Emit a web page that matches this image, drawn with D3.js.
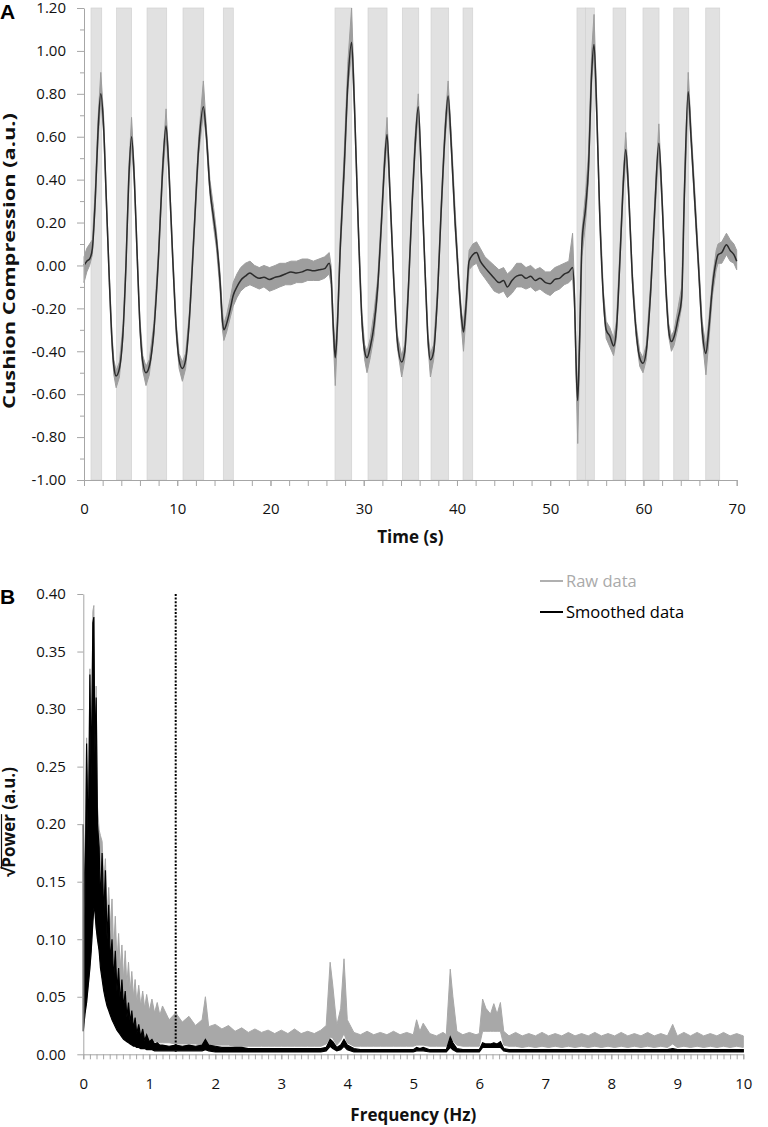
<!DOCTYPE html>
<html>
<head>
<meta charset="utf-8">
<script src="https://cdn.jsdelivr.net/npm/d3@7"></script>
<style>
  body { margin: 0; background: #fff; }
  svg { display: block; font-family: "Open Sans", sans-serif; }
</style>
</head>
<body>
<svg></svg>
<script>
// --- данные панели A: время (с), сглаженный сигнал, нижняя и верхняя граница сырых данных
const traceA = [
  [0.0, 0.00, -0.08, 0.04], [0.3, 0.02, -0.03, 0.08], [0.6, 0.03, 0.00, 0.10], [0.9, 0.08, 0.05, 0.12],
  [1.2, 0.30, 0.27, 0.35], [1.5, 0.62, 0.58, 0.68], [1.8, 0.80, 0.77, 0.90], [2.1, 0.65, 0.62, 0.70],
  [2.4, 0.30, 0.27, 0.33], [2.7, -0.05, -0.08, -0.02], [3.0, -0.35, -0.38, -0.32], [3.2, -0.47, -0.51, -0.44],
  [3.45, -0.515, -0.57, -0.49], [3.8, -0.48, -0.52, -0.45], [4.2, -0.30, -0.33, -0.27], [4.5, 0.00, -0.03, 0.03],
  [4.8, 0.40, 0.37, 0.45], [5.1, 0.60, 0.57, 0.69], [5.4, 0.40, 0.37, 0.44], [5.7, 0.05, 0.02, 0.08],
  [6.0, -0.28, -0.31, -0.25], [6.3, -0.45, -0.49, -0.42], [6.65, -0.50, -0.56, -0.47], [7.0, -0.47, -0.51, -0.44],
  [7.5, -0.30, -0.33, -0.27], [8.0, 0.05, 0.02, 0.08], [8.4, 0.42, 0.39, 0.46], [8.8, 0.65, 0.62, 0.73],
  [9.1, 0.45, 0.42, 0.49], [9.5, 0.05, 0.02, 0.08], [9.9, -0.30, -0.33, -0.27], [10.2, -0.44, -0.48, -0.41],
  [10.55, -0.48, -0.54, -0.45], [10.9, -0.44, -0.48, -0.41], [11.3, -0.25, -0.28, -0.22], [11.8, 0.15, 0.12, 0.18],
  [12.3, 0.55, 0.52, 0.60], [12.8, 0.74, 0.71, 0.86], [13.1, 0.62, 0.59, 0.66], [13.5, 0.36, 0.33, 0.40],
  [13.9, 0.22, 0.18, 0.27], [14.2, 0.12, 0.08, 0.16], [14.6, -0.08, -0.12, -0.04], [14.85, -0.26, -0.30, -0.22],
  [15.0, -0.30, -0.35, -0.27], [15.3, -0.27, -0.31, -0.23], [15.7, -0.20, -0.24, -0.15], [16.0, -0.14, -0.19, -0.08],
  [16.4, -0.10, -0.15, -0.04], [16.8, -0.07, -0.12, -0.01], [17.3, -0.05, -0.10, 0.01], [17.8, -0.035, -0.09, 0.02],
  [18.3, -0.05, -0.10, 0.00], [18.8, -0.06, -0.11, -0.01], [19.3, -0.055, -0.10, 0.00], [19.9, -0.065, -0.12, -0.01],
  [20.5, -0.055, -0.11, 0.00], [21.0, -0.05, -0.10, 0.01], [21.6, -0.04, -0.09, 0.01], [22.2, -0.03, -0.09, 0.02],
  [22.8, -0.035, -0.08, 0.02], [23.4, -0.03, -0.08, 0.03], [24.0, -0.02, -0.07, 0.03], [24.6, -0.025, -0.07, 0.02],
  [25.2, -0.02, -0.07, 0.03], [25.8, -0.015, -0.06, 0.04], [26.3, 0.01, -0.04, 0.06], [26.5, -0.05, -0.09, 0.00],
  [26.75, -0.30, -0.36, -0.26], [26.95, -0.43, -0.56, -0.40], [27.15, -0.30, -0.36, -0.26], [27.5, 0.10, 0.06, 0.14],
  [27.9, 0.45, 0.40, 0.52], [28.3, 0.85, 0.82, 0.95], [28.7, 1.04, 1.00, 1.20], [29.0, 0.75, 0.72, 0.80],
  [29.4, 0.20, 0.17, 0.24], [29.8, -0.25, -0.28, -0.22], [30.1, -0.40, -0.44, -0.37], [30.35, -0.43, -0.50, -0.40],
  [30.7, -0.38, -0.43, -0.34], [31.1, -0.28, -0.33, -0.22], [31.5, -0.10, -0.14, -0.06], [31.9, 0.20, 0.17, 0.24],
  [32.2, 0.45, 0.42, 0.50], [32.5, 0.61, 0.58, 0.69], [32.8, 0.35, 0.32, 0.39], [33.2, -0.05, -0.08, -0.02],
  [33.6, -0.35, -0.38, -0.32], [34.07, -0.45, -0.52, -0.42], [34.4, -0.40, -0.44, -0.37], [34.8, -0.10, -0.13, -0.07],
  [35.2, 0.30, 0.27, 0.34], [35.5, 0.55, 0.52, 0.60], [35.85, 0.74, 0.71, 0.80], [36.2, 0.40, 0.37, 0.44],
  [36.6, -0.05, -0.08, -0.02], [36.9, -0.35, -0.38, -0.32], [37.15, -0.44, -0.52, -0.41], [37.5, -0.40, -0.44, -0.37],
  [37.9, -0.15, -0.18, -0.12], [38.3, 0.25, 0.22, 0.29], [38.7, 0.60, 0.57, 0.65], [39.05, 0.79, 0.76, 0.86],
  [39.4, 0.55, 0.52, 0.60], [39.8, 0.20, 0.17, 0.26], [40.2, -0.08, -0.11, -0.05], [40.5, -0.25, -0.30, -0.22],
  [40.7, -0.31, -0.40, -0.27], [40.95, -0.20, -0.25, -0.16], [41.3, 0.02, -0.02, 0.07], [41.7, 0.05, 0.00, 0.10],
  [42.1, 0.06, 0.01, 0.11], [42.5, 0.02, -0.03, 0.08], [43.0, -0.01, -0.06, 0.04], [43.5, -0.035, -0.09, 0.02],
  [44.0, -0.06, -0.12, 0.00], [44.5, -0.08, -0.13, -0.02], [45.0, -0.07, -0.12, -0.01], [45.4, -0.10, -0.15, -0.04],
  [45.9, -0.07, -0.13, -0.02], [46.4, -0.05, -0.10, 0.01], [46.9, -0.045, -0.10, 0.01], [47.4, -0.06, -0.11, -0.01],
  [47.9, -0.05, -0.10, 0.00], [48.4, -0.07, -0.12, -0.02], [48.9, -0.06, -0.11, -0.01], [49.5, -0.08, -0.13, -0.03],
  [50.0, -0.085, -0.14, -0.03], [50.5, -0.065, -0.12, -0.01], [51.0, -0.06, -0.11, 0.00], [51.5, -0.04, -0.09, 0.01],
  [52.0, -0.03, -0.08, 0.02], [52.4, -0.01, -0.06, 0.15], [52.6, -0.15, -0.20, -0.10], [52.8, -0.50, -0.56, -0.45],
  [52.95, -0.63, -0.83, -0.58], [53.15, -0.35, -0.45, -0.30], [53.4, 0.10, 0.04, 0.16], [53.8, 0.27, 0.20, 0.34],
  [54.1, 0.45, 0.40, 0.52], [54.45, 0.90, 0.86, 1.00], [54.7, 1.03, 0.99, 1.17], [55.0, 0.70, 0.67, 0.76],
  [55.3, 0.25, 0.22, 0.29], [55.7, -0.15, -0.18, -0.12], [56.0, -0.30, -0.34, -0.26], [56.4, -0.33, -0.38, -0.29],
  [56.8, -0.375, -0.42, -0.34], [57.1, -0.30, -0.34, -0.26], [57.5, 0.05, 0.02, 0.09], [57.8, 0.35, 0.32, 0.40],
  [58.1, 0.54, 0.51, 0.62], [58.4, 0.35, 0.32, 0.39], [58.8, -0.05, -0.08, -0.02], [59.2, -0.30, -0.33, -0.27],
  [59.6, -0.43, -0.47, -0.40], [59.95, -0.456, -0.50, -0.43], [60.3, -0.40, -0.44, -0.37], [60.8, -0.10, -0.13, -0.07],
  [61.2, 0.25, 0.22, 0.29], [61.65, 0.57, 0.54, 0.66], [62.0, 0.30, 0.27, 0.34], [62.4, -0.10, -0.13, -0.07],
  [62.7, -0.30, -0.33, -0.27], [63.0, -0.355, -0.40, -0.33], [63.3, -0.33, -0.37, -0.30], [63.7, -0.25, -0.29, -0.20],
  [64.1, -0.15, -0.19, -0.10], [64.4, 0.35, 0.31, 0.40], [64.8, 0.81, 0.78, 0.90], [65.1, 0.60, 0.57, 0.65],
  [65.5, 0.30, 0.27, 0.35], [65.9, 0.00, -0.03, 0.04], [66.3, -0.30, -0.34, -0.26], [66.7, -0.41, -0.51, -0.38],
  [67.0, -0.30, -0.36, -0.26], [67.4, -0.10, -0.14, -0.06], [67.8, 0.02, -0.02, 0.07], [68.0, 0.05, 0.01, 0.10],
  [68.4, 0.06, 0.01, 0.11], [68.9, 0.096, 0.05, 0.15], [69.3, 0.07, 0.02, 0.12], [69.7, 0.05, 0.01, 0.10],
  [70.0, 0.02, -0.02, 0.07]
];

// серые полосы (начало, конец), с
const bandsA = [
  [0.75, 1.9], [3.5, 5.1], [6.76, 8.87], [10.62, 12.84], [14.94, 16.01],
  [26.92, 28.71], [30.46, 32.5], [34.14, 35.9], [37.22, 39.11], [40.65, 41.69],
  [52.87, 53.8], [53.8, 54.73], [56.74, 58.1], [59.95, 61.67], [63.25, 64.86], [66.68, 68.18]
];

const yTicksA = [-1.0, -0.8, -0.6, -0.4, -0.2, 0.0, 0.2, 0.4, 0.6, 0.8, 1.0, 1.2];
const yMinorA = [-0.9, -0.7, -0.5, -0.3, -0.1, 0.1, 0.3, 0.5, 0.7, 0.9, 1.1];
const xTicksA = [0, 10, 20, 30, 40, 50, 60, 70];

// --- данные панели B: частота (Гц), сглаженные (низ, верх), сырые (низ, верх)
const spectrumB = [
  [0.000, 0.020, 0.200, 0.020, 0.200], [0.025, 0.035, 0.120, 0.035, 0.125], [0.050, 0.045, 0.270, 0.045, 0.275],
  [0.075, 0.060, 0.180, 0.060, 0.190], [0.100, 0.075, 0.330, 0.075, 0.335], [0.120, 0.090, 0.240, 0.090, 0.250],
  [0.145, 0.115, 0.375, 0.115, 0.385], [0.160, 0.127, 0.380, 0.127, 0.390], [0.175, 0.125, 0.260, 0.125, 0.270],
  [0.195, 0.110, 0.310, 0.110, 0.320], [0.215, 0.100, 0.200, 0.100, 0.215], [0.240, 0.090, 0.180, 0.090, 0.195],
  [0.260, 0.075, 0.130, 0.080, 0.190], [0.285, 0.065, 0.175, 0.070, 0.185], [0.310, 0.055, 0.120, 0.060, 0.150],
  [0.335, 0.048, 0.160, 0.050, 0.170], [0.360, 0.042, 0.100, 0.045, 0.120], [0.385, 0.038, 0.130, 0.042, 0.145],
  [0.410, 0.034, 0.080, 0.040, 0.110], [0.435, 0.030, 0.100, 0.036, 0.135], [0.460, 0.027, 0.065, 0.034, 0.090],
  [0.485, 0.024, 0.090, 0.032, 0.120], [0.510, 0.021, 0.055, 0.030, 0.080], [0.535, 0.019, 0.075, 0.028, 0.105],
  [0.560, 0.017, 0.045, 0.026, 0.075], [0.585, 0.015, 0.065, 0.025, 0.095], [0.610, 0.013, 0.040, 0.023, 0.065],
  [0.635, 0.012, 0.055, 0.022, 0.090], [0.660, 0.011, 0.032, 0.021, 0.060], [0.685, 0.010, 0.045, 0.020, 0.080],
  [0.710, 0.009, 0.028, 0.019, 0.055], [0.735, 0.008, 0.038, 0.018, 0.072], [0.760, 0.007, 0.022, 0.017, 0.050],
  [0.785, 0.007, 0.032, 0.016, 0.065], [0.810, 0.006, 0.018, 0.016, 0.045], [0.840, 0.006, 0.026, 0.015, 0.060],
  [0.870, 0.005, 0.015, 0.015, 0.042], [0.900, 0.005, 0.022, 0.014, 0.055], [0.930, 0.005, 0.012, 0.013, 0.040],
  [0.960, 0.004, 0.017, 0.013, 0.052], [1.000, 0.004, 0.011, 0.012, 0.038], [1.040, 0.004, 0.013, 0.012, 0.048],
  [1.080, 0.003, 0.009, 0.011, 0.036], [1.120, 0.003, 0.010, 0.011, 0.045], [1.160, 0.003, 0.008, 0.010, 0.034],
  [1.200, 0.003, 0.008, 0.010, 0.042], [1.300, 0.003, 0.007, 0.010, 0.030], [1.400, 0.003, 0.008, 0.009, 0.036],
  [1.500, 0.003, 0.007, 0.009, 0.028], [1.600, 0.003, 0.008, 0.009, 0.033], [1.700, 0.003, 0.007, 0.009, 0.025],
  [1.800, 0.003, 0.008, 0.008, 0.030], [1.850, 0.004, 0.013, 0.010, 0.050], [1.900, 0.003, 0.008, 0.008, 0.024],
  [2.000, 0.002, 0.007, 0.008, 0.026], [2.100, 0.002, 0.006, 0.008, 0.022], [2.200, 0.002, 0.006, 0.008, 0.025],
  [2.300, 0.002, 0.006, 0.007, 0.020], [2.400, 0.002, 0.006, 0.007, 0.023], [2.500, 0.002, 0.005, 0.007, 0.019],
  [2.600, 0.002, 0.005, 0.007, 0.022], [2.700, 0.002, 0.005, 0.007, 0.019], [2.800, 0.002, 0.005, 0.007, 0.021],
  [2.900, 0.002, 0.005, 0.007, 0.018], [3.000, 0.002, 0.005, 0.007, 0.021], [3.100, 0.002, 0.005, 0.007, 0.018],
  [3.200, 0.002, 0.005, 0.007, 0.022], [3.300, 0.002, 0.005, 0.007, 0.018], [3.400, 0.002, 0.005, 0.007, 0.020],
  [3.500, 0.002, 0.005, 0.007, 0.018], [3.600, 0.002, 0.005, 0.007, 0.021], [3.680, 0.003, 0.006, 0.009, 0.025],
  [3.740, 0.007, 0.013, 0.015, 0.080], [3.780, 0.005, 0.011, 0.014, 0.060], [3.840, 0.003, 0.006, 0.008, 0.025],
  [3.900, 0.004, 0.008, 0.012, 0.040], [3.950, 0.007, 0.013, 0.018, 0.083], [4.000, 0.004, 0.008, 0.010, 0.030],
  [4.100, 0.002, 0.005, 0.007, 0.019], [4.200, 0.002, 0.004, 0.007, 0.017], [4.300, 0.002, 0.004, 0.007, 0.020],
  [4.400, 0.002, 0.004, 0.007, 0.017], [4.500, 0.002, 0.004, 0.007, 0.019], [4.600, 0.002, 0.004, 0.007, 0.017],
  [4.700, 0.002, 0.004, 0.007, 0.020], [4.800, 0.002, 0.004, 0.007, 0.017], [4.900, 0.002, 0.004, 0.007, 0.019],
  [5.000, 0.002, 0.004, 0.007, 0.017], [5.050, 0.003, 0.006, 0.008, 0.030], [5.100, 0.003, 0.005, 0.008, 0.020],
  [5.150, 0.003, 0.006, 0.008, 0.027], [5.250, 0.002, 0.004, 0.007, 0.018], [5.350, 0.002, 0.004, 0.007, 0.016],
  [5.450, 0.002, 0.004, 0.007, 0.019], [5.500, 0.002, 0.004, 0.007, 0.017], [5.560, 0.006, 0.015, 0.015, 0.074],
  [5.600, 0.004, 0.010, 0.012, 0.050], [5.660, 0.002, 0.005, 0.008, 0.020], [5.750, 0.002, 0.004, 0.007, 0.017],
  [5.850, 0.002, 0.004, 0.007, 0.019], [5.950, 0.002, 0.004, 0.007, 0.017], [6.000, 0.002, 0.004, 0.007, 0.018],
  [6.050, 0.006, 0.010, 0.020, 0.048], [6.100, 0.006, 0.009, 0.020, 0.040], [6.170, 0.006, 0.009, 0.020, 0.035],
  [6.220, 0.006, 0.010, 0.020, 0.044], [6.270, 0.006, 0.009, 0.020, 0.035], [6.320, 0.006, 0.011, 0.020, 0.045],
  [6.370, 0.003, 0.005, 0.008, 0.020], [6.450, 0.002, 0.004, 0.007, 0.016], [6.550, 0.002, 0.004, 0.007, 0.019],
  [6.650, 0.002, 0.004, 0.006, 0.016], [6.750, 0.002, 0.004, 0.007, 0.018], [6.850, 0.002, 0.004, 0.006, 0.016],
  [6.950, 0.002, 0.004, 0.007, 0.019], [7.050, 0.002, 0.004, 0.006, 0.016], [7.150, 0.002, 0.004, 0.007, 0.018],
  [7.250, 0.002, 0.004, 0.006, 0.016], [7.350, 0.002, 0.004, 0.007, 0.019], [7.450, 0.002, 0.004, 0.006, 0.016],
  [7.550, 0.002, 0.004, 0.007, 0.018], [7.650, 0.002, 0.004, 0.006, 0.016], [7.750, 0.002, 0.004, 0.007, 0.019],
  [7.850, 0.002, 0.004, 0.006, 0.016], [7.950, 0.002, 0.004, 0.007, 0.018], [8.050, 0.002, 0.004, 0.006, 0.016],
  [8.150, 0.002, 0.004, 0.007, 0.019], [8.250, 0.002, 0.004, 0.006, 0.016], [8.350, 0.002, 0.004, 0.007, 0.018],
  [8.450, 0.002, 0.004, 0.006, 0.016], [8.550, 0.002, 0.004, 0.007, 0.019], [8.650, 0.002, 0.004, 0.006, 0.016],
  [8.750, 0.002, 0.004, 0.007, 0.018], [8.850, 0.002, 0.004, 0.006, 0.016], [8.930, 0.002, 0.005, 0.009, 0.026],
  [9.000, 0.002, 0.004, 0.006, 0.016], [9.100, 0.002, 0.004, 0.007, 0.019], [9.200, 0.002, 0.004, 0.006, 0.016],
  [9.300, 0.002, 0.004, 0.007, 0.019], [9.400, 0.002, 0.004, 0.006, 0.016], [9.500, 0.002, 0.004, 0.007, 0.018],
  [9.600, 0.002, 0.004, 0.006, 0.016], [9.700, 0.002, 0.004, 0.007, 0.019], [9.800, 0.002, 0.004, 0.006, 0.016],
  [9.900, 0.002, 0.004, 0.007, 0.018], [10.00, 0.002, 0.004, 0.006, 0.016]
];

const cutoffB = 1.4; // пунктирная линия, Гц
const yTicksB = [0.00, 0.05, 0.10, 0.15, 0.20, 0.25, 0.30, 0.35, 0.40];
const xTicksB = [0, 1, 2, 3, 4, 5, 6, 7, 8, 9, 10];
const legendB = ["Raw data", "Smoothed data"];

const width = 768;
const height = 1127;
const axisColor = "#a6a6a6";
const rawColor = "#9e9e9e";

let svg = d3.select("svg")
  .attr("width", width)
  .attr("height", height);

function styleAxis(g, fontSize) {
  g.select(".domain").attr("stroke", axisColor);
  g.selectAll(".tick line").attr("stroke", axisColor);
  g.selectAll(".tick text").attr("fill", "#111").style("font-size", fontSize + "px")
    .style("font-family", "'Open Sans', sans-serif");
}

// ===================== Панель A =====================
const xA = d3.scaleLinear().domain([0, 70]).range([84, 736.7]);
const yA = d3.scaleLinear().domain([-1, 1.2]).range([480, 8]);

svg.append("g")
  .selectAll("rect")
  .data(bandsA)
  .join("rect")
  .attr("x", d => xA(d[0]))
  .attr("width", d => xA(d[1]) - xA(d[0]))
  .attr("y", yA(1.2))
  .attr("height", yA(-1) - yA(1.2))
  .attr("fill", "#e1e1e1")
  .attr("stroke", "#d2d2d2")
  .attr("stroke-width", 0.7);

// сырые данные (серый коридор)
const rawAreaA = d3.area()
  .x(d => xA(d[0]))
  .y0(d => yA(d[2]))
  .y1(d => yA(d[3]));
svg.append("path")
  .attr("d", rawAreaA(traceA))
  .attr("fill", rawColor)
  .attr("stroke", rawColor)
  .attr("stroke-width", 1);

// сглаженная кривая
const smoothLineA = d3.line()
  .x(d => xA(d[0]))
  .y(d => yA(d[1]))
  .curve(d3.curveMonotoneX);
svg.append("path")
  .attr("d", smoothLineA(traceA))
  .attr("fill", "none")
  .attr("stroke", "#2b2b2b")
  .attr("stroke-width", 1.5);

// оси панели A
let gyA = svg.append("g").attr("transform", `translate(${xA(0)},0)`)
  .call(d3.axisLeft(yA).tickValues(yTicksA).tickFormat(d => d.toFixed(2))
    .tickSize(7).tickSizeOuter(0).tickPadding(11));
styleAxis(gyA, 15);
let gyAm = svg.append("g").attr("transform", `translate(${xA(0)},0)`)
  .call(d3.axisLeft(yA).tickValues(yMinorA).tickFormat("").tickSize(4).tickSizeOuter(0));
gyAm.select(".domain").remove();
styleAxis(gyAm, 15);

let gxA = svg.append("g").attr("transform", `translate(0,${yA(-1)})`)
  .call(d3.axisBottom(xA).tickValues(xTicksA).tickSize(6).tickSizeOuter(0).tickPadding(17));
styleAxis(gxA, 15);
let gxAm = svg.append("g").attr("transform", `translate(0,${yA(-1)})`)
  .call(d3.axisBottom(xA).tickValues(d3.range(0, 71, 2)).tickFormat("").tickSize(6).tickSizeOuter(0));
gxAm.select(".domain").remove();
styleAxis(gxAm, 15);

svg.append("text")
  .attr("transform", "translate(15,261) rotate(-90)")
  .attr("text-anchor", "middle")
  .attr("textLength", 296)
  .attr("lengthAdjust", "spacingAndGlyphs")
  .style("font-weight", "bold").style("font-size", "16px")
  .attr("fill", "#111")
  .text("Cushion Compression (a.u.)");

svg.append("text")
  .attr("x", (xA(0) + xA(70)) / 2).attr("y", 543)
  .attr("text-anchor", "middle")
  .style("font-weight", "bold").style("font-size", "17px")
  .attr("fill", "#111")
  .text("Time (s)");

svg.append("text")
  .attr("x", 0).attr("y", 18.5)
  .style("font-family", "'Liberation Sans', Arial, sans-serif")
  .style("font-weight", "bold").style("font-size", "21px")
  .text("A");

// ===================== Панель B =====================
const xB = d3.scaleLinear().domain([0, 10]).range([83.3, 743.3]);
const yB = d3.scaleLinear().domain([0, 0.4]).range([1054.3, 594]);

const rawAreaB = d3.area()
  .x(d => xB(d[0]))
  .y0(d => yB(d[3]))
  .y1(d => yB(d[4]));
svg.append("path")
  .attr("d", rawAreaB(spectrumB))
  .attr("fill", "#a8a8a8")
  .attr("stroke", "#a8a8a8")
  .attr("stroke-width", 1);

const smoothAreaB = d3.area()
  .x(d => xB(d[0]))
  .y0(d => yB(d[1]))
  .y1(d => yB(d[2]));
svg.append("path")
  .attr("d", smoothAreaB(spectrumB))
  .attr("fill", "#000")
  .attr("stroke", "#000")
  .attr("stroke-width", 1.2);

// граница сглаживания
svg.append("line")
  .attr("x1", xB(cutoffB)).attr("x2", xB(cutoffB))
  .attr("y1", yB(0.4)).attr("y2", yB(0.002))
  .attr("stroke", "#000")
  .attr("stroke-width", 2)
  .attr("stroke-dasharray", "2,1.6");

let gyB = svg.append("g").attr("transform", `translate(${xB(0)},0)`)
  .call(d3.axisLeft(yB).tickValues(yTicksB).tickFormat(d => d.toFixed(2))
    .tickSize(6).tickSizeOuter(0).tickPadding(11.5));
styleAxis(gyB, 15);

let gxB = svg.append("g").attr("transform", `translate(0,${yB(0)})`)
  .call(d3.axisBottom(xB).tickValues(xTicksB).tickSize(5).tickSizeOuter(0).tickPadding(19));
styleAxis(gxB, 15);
let gxBm = svg.append("g").attr("transform", `translate(0,${yB(0)})`)
  .call(d3.axisBottom(xB).tickValues(d3.range(0, 101).map(i => i / 10)).tickFormat("").tickSize(5).tickSizeOuter(0));
gxBm.select(".domain").remove();
styleAxis(gxBm, 15);

// подпись оси Y панели B: √Power с чертой над Power
let yTitleB = svg.append("g").attr("transform", "translate(15,822) rotate(-90)");
let tB = yTitleB.append("text")
  .attr("text-anchor", "middle")
  .style("font-weight", "bold").style("font-size", "17px")
  .attr("fill", "#111");
tB.append("tspan").text("\u221A");
tB.append("tspan").text("Power");
tB.append("tspan").text(" (a.u.)");
const fullLen = tB.node().getComputedTextLength();
const rootLen = tB.node().getSubStringLength(0, 1);
const powerLen = tB.node().getSubStringLength(1, 5);
const startX = -fullLen / 2 + rootLen;
yTitleB.append("line")
  .attr("x1", startX - 1).attr("x2", startX + powerLen)
  .attr("y1", -13.5).attr("y2", -13.5)
  .attr("stroke", "#111").attr("stroke-width", 1.2);

svg.append("text")
  .attr("x", (xB(0) + xB(10)) / 2).attr("y", 1121)
  .attr("text-anchor", "middle")
  .style("font-weight", "bold").style("font-size", "17px")
  .attr("fill", "#111")
  .text("Frequency (Hz)");

svg.append("text")
  .attr("x", 0).attr("y", 604)
  .style("font-family", "'Liberation Sans', Arial, sans-serif")
  .style("font-weight", "bold").style("font-size", "21px")
  .text("B");

// легенда
const legendColors = ["#b0b0b0", "#000"];
let legend = svg.append("g")
  .selectAll("g")
  .data(legendB)
  .join("g")
  .attr("transform", (d, i) => `translate(540,${581 + i * 31})`);
legend.append("line")
  .attr("x1", 0).attr("x2", 23)
  .attr("stroke", (d, i) => legendColors[i])
  .attr("stroke-width", 2);
legend.append("text")
  .attr("x", 26).attr("y", 6)
  .style("font-size", "16.5px")
  .attr("fill", (d, i) => i === 0 ? "#aaaaaa" : "#000")
  .text(d => d);
</script>
</body>
</html>
